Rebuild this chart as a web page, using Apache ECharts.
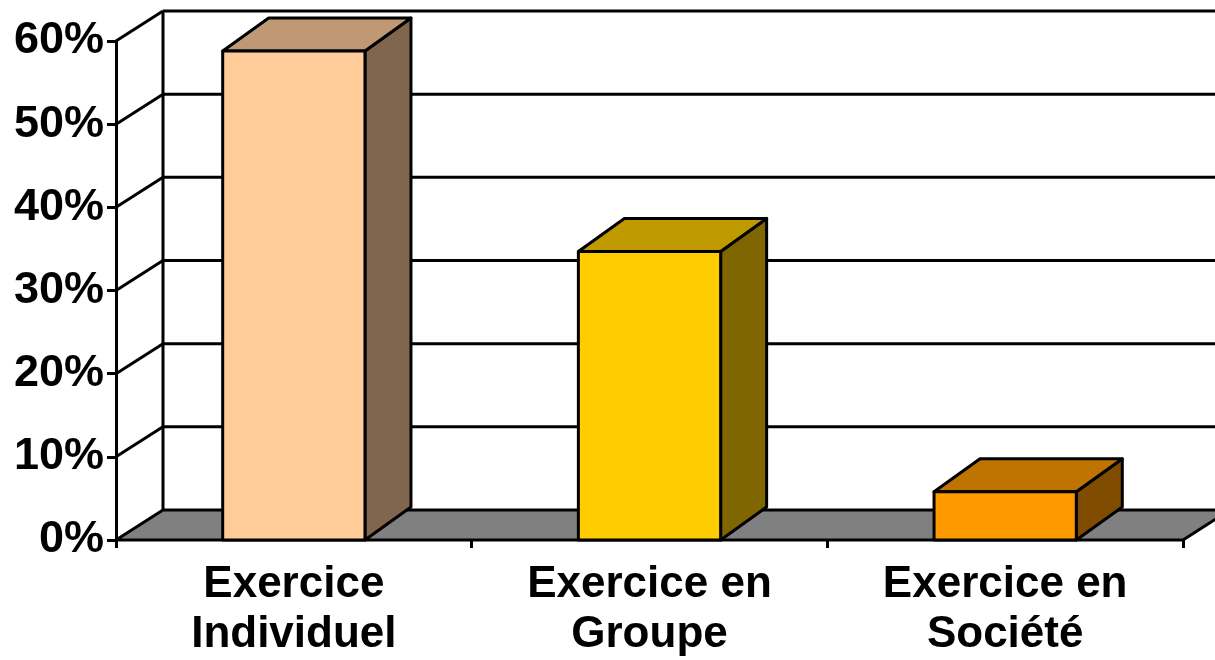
<!DOCTYPE html>
<html>
<head>
<meta charset="utf-8">
<script src="https://cdn.jsdelivr.net/npm/echarts@6/dist/echarts.min.js"></script>
<style>html,body{margin:0;padding:0;background:#fff;}#c{width:1215px;height:660px;}</style>
</head>
<body>
<div id="c"></div>
<script>
var categories = ['Exercice\nIndividuel', 'Exercice en\nGroupe', 'Exercice en\nSociété'];
var values = [58.8, 34.7, 5.8];
var frontColors = ['#FFCC99', '#FFCC00', '#FF9900'];
var topColors = ['#BF9973', '#BF9900', '#BF7300'];
var sideColors = ['#80664D', '#806600', '#804D00'];
var yTicks = [0, 10, 20, 30, 40, 50, 60];

var WALL_DX = 47, WALL_DY = -30;
var BAR_DX = 46, BAR_DY = -33;
var LW = 3;

var chart = echarts.init(document.getElementById('c'), null, {renderer: 'canvas'});

function frameItem(params, api) {
  var v = api.value(0);
  var cs = params.coordSys;
  var left = cs.x, right = cs.x + cs.width;
  var y = api.coord([0, v])[1];
  var children = [];
  var ls = {stroke: '#000', lineWidth: LW};
  if (v === 0) {
    children.push({
      type: 'polygon',
      shape: {points: [[left, y], [right, y], [right + WALL_DX, y + WALL_DY], [left + WALL_DX, y + WALL_DY]]},
      style: {fill: '#808080', stroke: '#000', lineWidth: LW, lineJoin: 'miter'}
    });
  } else {
    children.push({type: 'line', shape: {x1: left, y1: y, x2: left + WALL_DX, y2: y + WALL_DY}, style: ls});
    children.push({type: 'line', shape: {x1: left + WALL_DX, y1: y + WALL_DY, x2: right + WALL_DX, y2: y + WALL_DY}, style: ls});
  }
  if (v === 60) {
    var y0 = api.coord([0, 0])[1];
    children.push({type: 'line', shape: {x1: left + WALL_DX, y1: y + WALL_DY, x2: left + WALL_DX, y2: y0 + WALL_DY}, style: ls});
  }
  return {type: 'group', children: children};
}

function barItem(params, api) {
  var idx = api.value(0), val = api.value(1);
  var top = api.coord([idx, val]);
  var base = api.coord([idx, 0]);
  var band = api.size([1, 0])[0];
  var w = band * 0.4;
  var x0 = top[0] - w / 2, x1 = top[0] + w / 2;
  var yt = top[1], yb = base[1];
  var i = params.dataIndex;
  var st = {stroke: '#000', lineWidth: LW, lineJoin: 'round'};
  return {
    type: 'group',
    children: [
      {type: 'polygon', shape: {points: [[x1, yt], [x1 + BAR_DX, yt + BAR_DY], [x1 + BAR_DX, yb + BAR_DY], [x1, yb]]},
        style: Object.assign({fill: sideColors[i]}, st)},
      {type: 'polygon', shape: {points: [[x0, yt], [x1, yt], [x1 + BAR_DX, yt + BAR_DY], [x0 + BAR_DX, yt + BAR_DY]]},
        style: Object.assign({fill: topColors[i]}, st)},
      {type: 'rect', shape: {x: x0, y: yt, width: w, height: yb - yt},
        style: Object.assign({fill: frontColors[i]}, st)}
    ]
  };
}

var option = {
  animation: false,
  backgroundColor: '#fff',
  grid: {left: 116, right: 32, top: 41, bottom: 119, containLabel: false},
  xAxis: {
    type: 'category',
    data: categories,
    boundaryGap: true,
    axisLine: {show: false},
    axisTick: {show: true, length: 8, inside: false, lineStyle: {color: '#000', width: LW}},
    axisLabel: {
      interval: 0, margin: 20, color: '#000',
      fontFamily: 'Liberation Sans, Arial, sans-serif', fontWeight: 'bold', fontSize: 44, lineHeight: 50
    },
    splitLine: {show: false}
  },
  yAxis: {
    type: 'value',
    min: 0, max: 60, interval: 10,
    axisLine: {show: true, lineStyle: {color: '#000', width: LW}},
    axisTick: {show: true, length: 9, lineStyle: {color: '#000', width: LW}},
    axisLabel: {
      margin: 12, color: '#000', formatter: '{value}%',
      fontFamily: 'Liberation Sans, Arial, sans-serif', fontWeight: 'bold', fontSize: 45
    },
    splitLine: {show: false}
  },
  series: [
    {
      type: 'custom', z: 1, silent: true, clip: false,
      renderItem: frameItem,
      encode: {y: 0},
      data: yTicks.slice().reverse().map(function (t) { return [t]; })
    },
    {
      type: 'custom', z: 3, silent: true, clip: false,
      renderItem: barItem,
      encode: {x: 0, y: 1},
      data: values.map(function (v, i) { return [i, v]; })
    }
  ]
};
chart.setOption(option);
</script>
</body>
</html>
